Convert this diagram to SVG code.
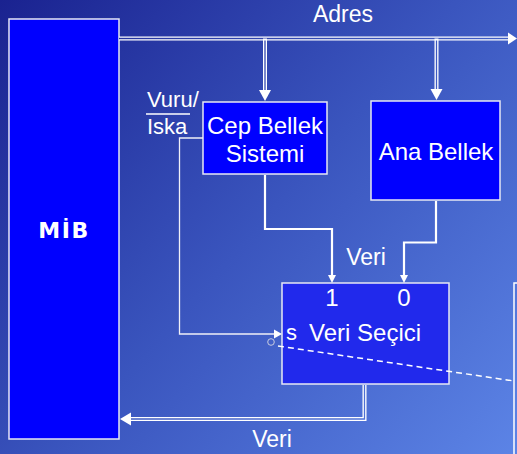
<svg xmlns="http://www.w3.org/2000/svg" width="517" height="454" viewBox="0 0 517 454">
<defs>
<linearGradient id="bg" gradientUnits="userSpaceOnUse" x1="0" y1="0" x2="517" y2="454">
<stop offset="0" stop-color="#1a2290"/>
<stop offset="0.5" stop-color="#3a55be"/>
<stop offset="1" stop-color="#5c84e6"/>
</linearGradient>
<style>
.box{fill:#0000ff;stroke:#e6e8f4;stroke-width:1.5}
.sel{fill:#2129ec;stroke:#e6e8f4;stroke-width:1.5}
.lbl{font-family:"Liberation Sans",Arial,sans-serif;font-size:23px;fill:#ffffff}
.dblo{fill:none;stroke:#ffffff;stroke-width:4}
.dbli{fill:none;stroke:url(#bg);stroke-width:1.3}
.wire{fill:none;stroke:#ffffff;stroke-width:2.2}
.thin{fill:none;stroke:#f0f0f8;stroke-width:1.3}
.head{fill:#ffffff}
</style>
</defs>
<rect x="0" y="0" width="517" height="454" fill="url(#bg)"/>

<g id="mib">
  <rect class="box" x="9" y="19" width="110" height="420"/>
  <text x="64" y="238" text-anchor="middle" style="font-family:'DejaVu Sans',sans-serif;font-weight:bold;font-size:22px;fill:#ffffff;letter-spacing:1.5px">MİB</text>
</g>

<g id="cep">
  <rect class="box" x="203" y="102" width="124" height="72"/>
  <text class="lbl" x="265" y="134" text-anchor="middle" style="font-size:24px">Cep Bellek</text>
  <text class="lbl" x="265" y="162" text-anchor="middle" style="font-size:24px">Sistemi</text>
</g>

<g id="ana">
  <rect class="box" x="371" y="101" width="129" height="99"/>
  <text class="lbl" x="436" y="160" text-anchor="middle" style="font-size:24px">Ana Bellek</text>
</g>

<g id="secici">
  <rect class="sel" x="282" y="283" width="167" height="101"/>
  <text class="lbl" x="332" y="306" text-anchor="middle" style="font-size:24px">1</text>
  <text class="lbl" x="404" y="306" text-anchor="middle" style="font-size:24px">0</text>
  <text class="lbl" x="286" y="340" style="font-size:22px">s</text>
  <text class="lbl" x="309" y="341" style="font-size:24px">Veri Seçici</text>
</g>

<g id="partial">
  <rect x="514" y="283" width="20" height="200" fill="none" stroke="#ffffff" stroke-width="1.5"/>
</g>

<g id="connectors">
  <!-- Adres bus -->
  <path class="dblo" d="M119 38.5 H510"/>
  <path class="dbli" d="M119 38.5 H510"/>
  <polygon class="head" points="508,32.5 517,38.5 508,44.5"/>
  <path class="dblo" d="M265 38.5 V91"/>
  <path class="dbli" d="M265 40.5 V91"/>
  <polygon class="head" points="259,90 271,90 265,101"/>
  <path class="dblo" d="M436.5 38.5 V90"/>
  <path class="dbli" d="M436.5 40.5 V90"/>
  <polygon class="head" points="430.5,89 442.5,89 436.5,100"/>
  <text class="lbl" x="343" y="22" text-anchor="middle">Adres</text>

  <!-- Cep -> 1 -->
  <path class="wire" d="M265 175 V229 H332 V276"/>
  <polygon class="head" points="328,275 336,275 332,283"/>
  <!-- Ana -> 0 -->
  <path class="wire" d="M436 201 V242.5 H404 V276"/>
  <polygon class="head" points="400,275 408,275 404,283"/>
  <text class="lbl" x="366" y="265" text-anchor="middle">Veri</text>

  <!-- Vuru/Iska -> s -->
  <path class="thin" d="M203 138 H179.5 V334 H276"/>
  <polygon class="head" points="274,329.5 282,334 274,338.5"/>
  <text class="lbl" x="147" y="107" style="font-size:22px">Vuru/</text>
  <text class="lbl" x="147" y="134" style="font-size:22px">Iska</text>
  <line x1="146" y1="114" x2="190" y2="114" stroke="#ffffff" stroke-width="1.5"/>

  <!-- Veri out -> MIB -->
  <path class="dblo" d="M364.5 385 V419 H129"/>
  <path class="dbli" d="M364.5 385 V419 H129"/>
  <polygon class="head" points="131,412.5 120,419 131,425.5"/>
  <text class="lbl" x="272" y="447" text-anchor="middle">Veri</text>

  <!-- dashed -->
  <circle cx="271" cy="342" r="3.3" fill="none" stroke="#c8cce0" stroke-width="1"/>
  <line x1="278" y1="346" x2="514" y2="381" stroke="#ffffff" stroke-width="1.5" stroke-dasharray="6,4"/>
</g>
</svg>
